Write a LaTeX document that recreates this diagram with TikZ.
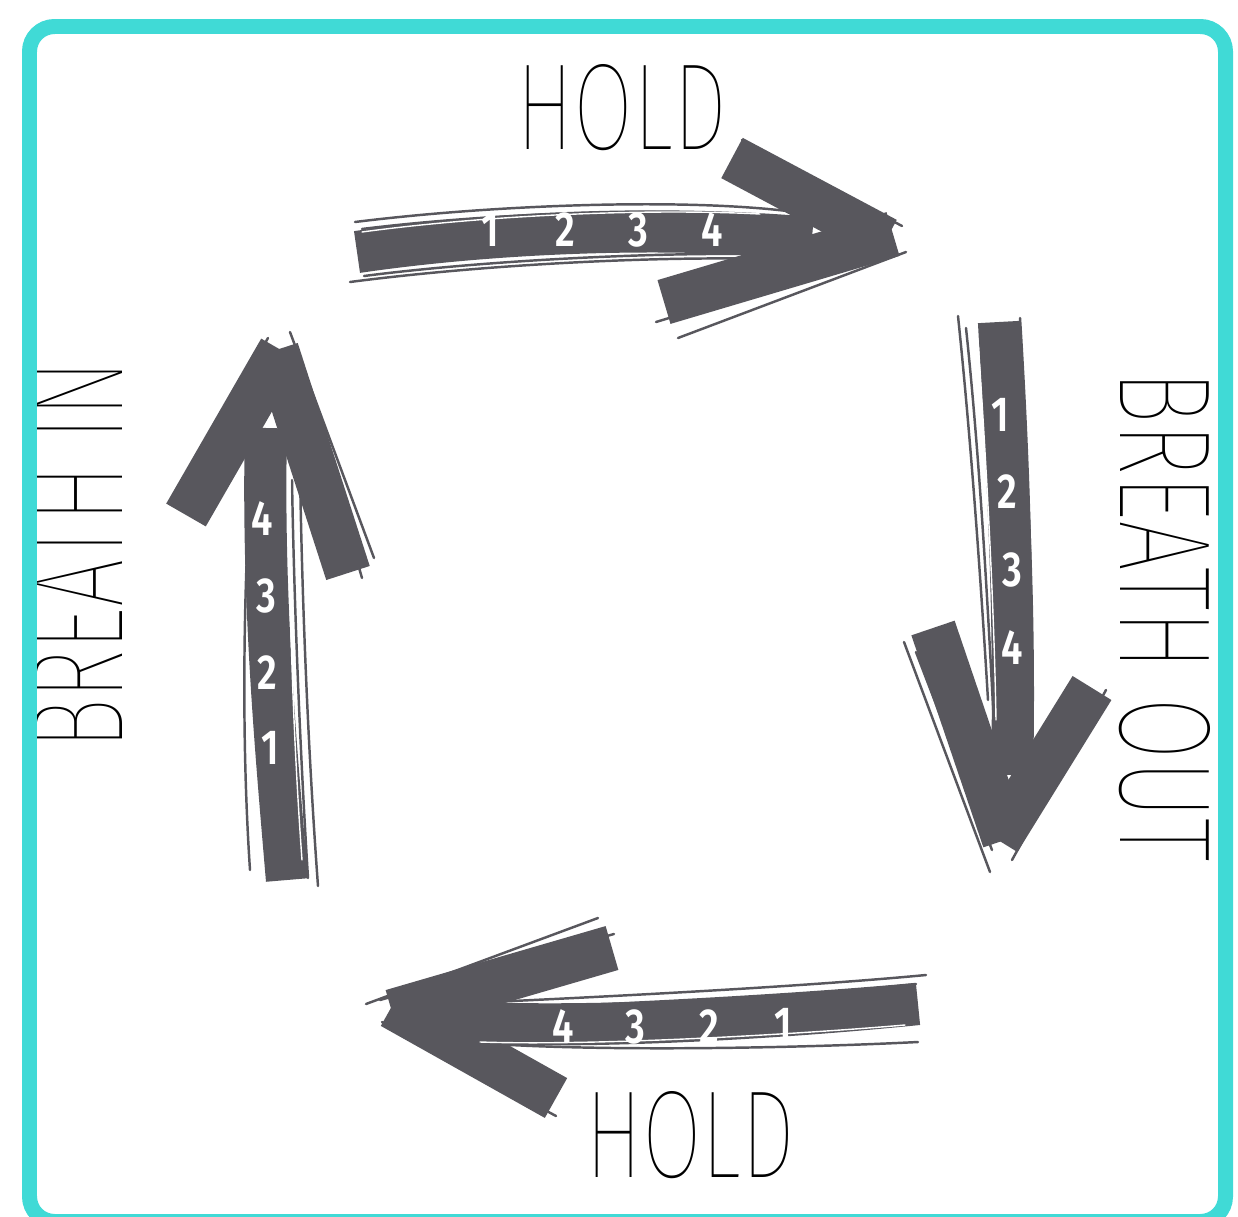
\documentclass[tikz,border=0pt]{standalone}
\usepackage{fontspec}
\usepackage{graphicx}
\newfontfamily\holdfont{Fira Sans Thin}
\newfontfamily\countfont{Fira Sans SemiBold}
\definecolor{framecyan}{HTML}{40DAD6}
\definecolor{brushgrey}{HTML}{58575D}

\begin{document}
\begin{tikzpicture}[x=0.02cm, y=-0.02cm,
    frame/.style={draw=framecyan, line width=0.3cm, rounded corners=0.5cm},
    shaft/.style={draw=brushgrey, line width=24pt},
    barb/.style={draw=brushgrey, line width=26pt},
    sketch/.style={draw=brushgrey, line width=1.4pt, line cap=round},
    streak/.style={draw=white, line width=0.8pt, line cap=round},
    word/.style={inner sep=0pt, font=\holdfont},
    count/.style={inner sep=0pt, text=white, font=\countfont\fontsize{28}{28}\selectfont}]

    \useasboundingbox (0,0) rectangle (1238,1217);

    % top arrow: hold
    \draw[sketch] (355,222) .. controls (500,204) and (690,198) .. (795,212);
    \draw[sketch] (362,229) .. controls (500,212) and (690,206) .. (805,220);
    \draw[sketch] (350,282) .. controls (480,265) and (650,256) .. (770,259);
    \draw[sketch] (364,276) .. controls (480,261) and (640,253) .. (745,254);
    \draw[sketch] (742,140) -- (902,226);
    \draw[sketch] (656,322) -- (892,250);
    \draw[sketch] (678,338) -- (906,252);
    \draw[shaft] (357,252) .. controls (480,234) and (650,224) .. (812,238);
    \draw[barb] (732,158) -- (886,240);
    \draw[barb] (664,302) -- (893,234);
    \draw[streak] (362,232) .. controls (480,216) and (640,208) .. (760,214);

    % right arrow: breath out
    \draw[sketch] (958,316) .. controls (972,450) and (982,600) .. (988,700);
    \draw[sketch] (966,328) .. controls (980,460) and (988,610) .. (994,725);
    \draw[sketch] (1020,318) .. controls (1028,450) and (1034,600) .. (1030,762);
    \draw[sketch] (904,642) -- (990,872);
    \draw[sketch] (916,652) -- (992,850);
    \draw[sketch] (1106,690) -- (1012,860);
    \draw[shaft] (999,322) .. controls (1006,450) and (1016,600) .. (1012,775);
    \draw[barb] (933,628) -- (1005,840);
    \draw[barb] (1092,688) -- (998,840);
    \draw[streak] (978,340) .. controls (986,460) and (994,600) .. (996,720);

    % bottom arrow: hold
    \draw[sketch] (926,975) .. controls (800,987) and (600,997) .. (470,1003);
    \draw[sketch] (916,984) .. controls (800,995) and (610,1005) .. (480,1009);
    \draw[sketch] (918,1042) .. controls (800,1048) and (600,1052) .. (478,1043);
    \draw[sketch] (598,918) -- (366,1004);
    \draw[sketch] (614,934) -- (380,1000);
    \draw[sketch] (382,1022) -- (556,1116);
    \draw[shaft] (918,1004) .. controls (800,1016) and (600,1030) .. (455,1022);
    \draw[barb] (612,948) -- (392,1012);
    \draw[barb] (556,1098) -- (392,1006);
    \draw[streak] (905,1025) .. controls (800,1034) and (600,1046) .. (480,1042);

    % left arrow: breath in
    \draw[sketch] (250,870) .. controls (242,750) and (242,600) .. (253,440);
    \draw[sketch] (318,886) .. controls (308,750) and (302,600) .. (300,470);
    \draw[sketch] (308,878) .. controls (300,750) and (294,600) .. (292,480);
    \draw[sketch] (290,332) -- (374,558);
    \draw[sketch] (302,370) -- (362,578);
    \draw[sketch] (176,500) -- (268,338);
    \draw[shaft] (287,880) .. controls (276,750) and (262,600) .. (266,428);
    \draw[barb] (186,515) -- (281,350);
    \draw[barb] (348,573) -- (276,350);
    \draw[streak] (302,860) .. controls (294,750) and (288,600) .. (290,480);

    % counts
    \foreach \n/\px/\py in {1/490/230, 2/565/230, 3/638/230, 4/712/230}
        \node[count] (top-\n) at (\px,\py) {\scalebox{0.78}[1]{\n}};
    \foreach \n/\px/\py in {1/1000/415, 2/1007/492, 3/1012/570, 4/1012/648}
        \node[count] (out-\n) at (\px,\py) {\scalebox{0.78}[1]{\n}};
    \foreach \n/\px/\py in {4/563/1027, 3/635/1027, 2/709/1027, 1/783/1025}
        \node[count] (bottom-\n) at (\px,\py) {\scalebox{0.78}[1]{\n}};
    \foreach \n/\px/\py in {4/262/519, 3/266/596, 2/267/673, 1/270/748}
        \node[count] (in-\n) at (\px,\py) {\scalebox{0.78}[1]{\n}};

    % labels
    \node[word] (holdtop) at (622,108) {\resizebox{4.22cm}{1.7cm}{HOLD}};
    \node[word, rotate=-90] (breathout) at (1165,616) {\resizebox{9.84cm}{1.8cm}{BREATH OUT}};
    \node[word] (holdbottom) at (690,1135) {\resizebox{4.2cm}{1.72cm}{HOLD}};
    \node[word, rotate=90] (breathin) at (78,555) {\resizebox{7.8cm}{1.76cm}{BREATH IN}};

    \draw[frame] (29.5,26.5) rectangle (1225.5,1221.5);
\end{tikzpicture}
\end{document}
